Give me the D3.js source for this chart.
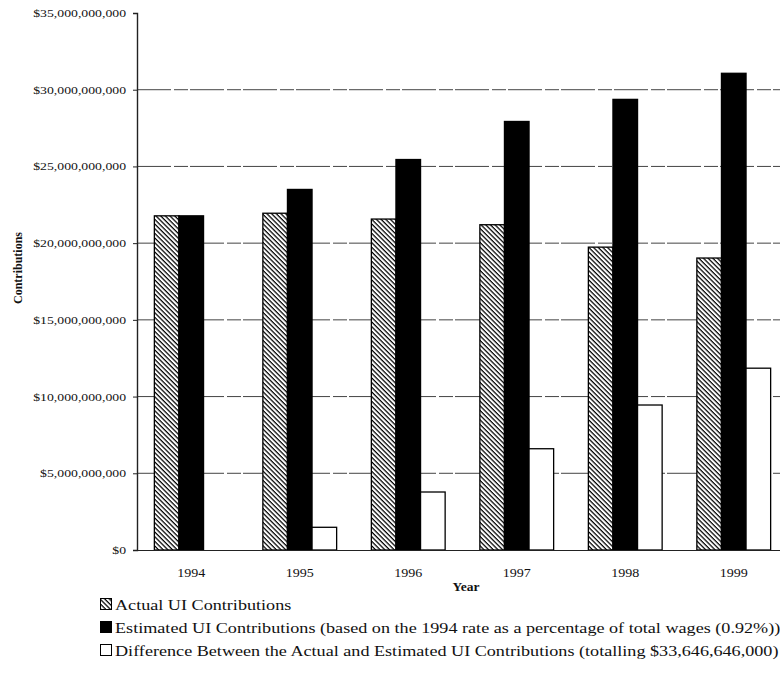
<!DOCTYPE html>
<html>
<head>
<meta charset="utf-8">
<script src="https://cdn.jsdelivr.net/npm/d3@7"></script>
<style>
  html, body { margin: 0; padding: 0; background: #fff; }
  svg { display: block; }
  text { font-family: "Liberation Serif", "Times New Roman", serif; fill: #111; }
</style>
</head>
<body>
<svg id="chart" width="780" height="677"></svg>
<script>
// Unemployment insurance contributions by year
const years = ["1994", "1995", "1996", "1997", "1998", "1999"];
const actual = [21.78e9, 21.95e9, 21.57e9, 21.2e9, 19.74e9, 19.03e9];
const estimated = [21.78e9, 23.5e9, 25.45e9, 27.93e9, 29.37e9, 31.07e9];
const difference = [0, 1.48e9, 3.78e9, 6.6e9, 9.45e9, 11.85e9];
const yTicks = [0, 5e9, 10e9, 15e9, 20e9, 25e9, 30e9, 35e9];
const seriesKeys = ["actual", "estimated", "difference"];
const legendLabels = [
  "Actual UI Contributions",
  "Estimated UI Contributions (based on the 1994 rate as a percentage of total wages (0.92%))",
  "Difference Between the Actual and Estimated UI Contributions (totalling $33,646,646,000)"
];

const svg = d3.select("#chart");
const plotLeft = 137, plotTop = 13, plotBottom = 550, plotRight = 788;

// hatched fill for the actual series (lines falling left to right)
const defs = svg.append("defs");
const pat = defs.append("pattern")
  .attr("id", "hatch")
  .attr("patternUnits", "userSpaceOnUse")
  .attr("width", 3.3).attr("height", 3.3)
  .attr("patternTransform", "rotate(45)");
pat.append("rect").attr("width", 3.3).attr("height", 3.3).attr("fill", "#fff");
pat.append("line").attr("x1", 0).attr("y1", 0).attr("x2", 3.3).attr("y2", 0)
  .attr("stroke", "#000").attr("stroke-width", 2.5);

const fills = { actual: "url(#hatch)", estimated: "#000", difference: "#fff" };

const x = d3.scaleBand().domain(years).range([plotLeft, plotRight]).padding(0);
const xs = d3.scaleBand().domain(seriesKeys)
  .range([x.bandwidth() * 0.16, x.bandwidth() * 0.84]).padding(0);
const y = d3.scaleLinear().domain([0, 35e9]).range([plotBottom, plotTop]);

// stretch helper: widens rendered glyphs horizontally
function stretch(sel, k) {
  sel.each(function () {
    const l = this.getComputedTextLength();
    d3.select(this).attr("textLength", l * k).attr("lengthAdjust", "spacingAndGlyphs");
  });
}

// gridlines
svg.append("g").selectAll("line")
  .data(yTicks.filter(v => v > 0 && v < 35e9))
  .join("line")
  .attr("x1", plotLeft).attr("x2", plotRight)
  .attr("y1", d => y(d)).attr("y2", d => y(d))
  .attr("stroke", "#444").attr("stroke-width", 1)
  .attr("stroke-dasharray", "34,3,14,2");

// bars
const rows = years.map((yr, i) => ({
  year: yr,
  values: [
    { key: "actual", v: actual[i] },
    { key: "estimated", v: estimated[i] },
    { key: "difference", v: difference[i] }
  ]
}));

svg.append("g").selectAll("g")
  .data(rows)
  .join("g")
  .attr("transform", d => `translate(${x(d.year)},0)`)
  .selectAll("rect")
  .data(d => d.values.filter(e => e.v > 0))
  .join("rect")
  .attr("x", d => xs(d.key))
  .attr("width", xs.bandwidth())
  .attr("y", d => y(d.v))
  .attr("height", d => y(0) - y(d.v))
  .attr("fill", d => fills[d.key])
  .attr("stroke", "#000")
  .attr("stroke-width", 1.3);

// y axis
const yAxis = svg.append("g")
  .attr("transform", `translate(${plotLeft},0)`)
  .call(d3.axisLeft(y).tickValues(yTicks).tickFormat(d3.format("$,.0f")).tickSize(4).tickPadding(7));
yAxis.select(".domain").attr("stroke", "#222").attr("stroke-width", 1.4);
yAxis.selectAll(".tick line").attr("stroke", "#222");
yAxis.selectAll("text").attr("font-size", 11).attr("font-family", "Liberation Serif").attr("fill", "#111");
stretch(yAxis.selectAll("text"), 1.25);

// x axis
const xAxis = svg.append("g")
  .attr("transform", `translate(0,${plotBottom})`)
  .call(d3.axisBottom(x).tickSize(0).tickPadding(18));
xAxis.select(".domain").attr("stroke", "#222").attr("stroke-width", 1.2);
xAxis.selectAll("text").attr("font-size", 13).attr("font-family", "Liberation Serif").attr("fill", "#111");
stretch(xAxis.selectAll("text"), 1.08);

// axis titles
svg.append("text")
  .attr("transform", "translate(22,268) rotate(-90)")
  .attr("text-anchor", "middle")
  .attr("font-size", 12).attr("font-weight", "bold")
  .text("Contributions");

const xt = svg.append("text")
  .attr("x", 466).attr("y", 591)
  .attr("text-anchor", "middle")
  .attr("font-size", 12.5).attr("font-weight", "bold")
  .text("Year");
stretch(xt, 1.08);

// legend
const legend = svg.append("g").attr("transform", "translate(100,598)");
const li = legend.selectAll("g")
  .data(seriesKeys)
  .join("g")
  .attr("transform", (d, i) => `translate(0,${i * 23})`);
li.append("rect")
  .attr("x", 0.5).attr("y", 0.5).attr("width", 11).attr("height", 11)
  .attr("fill", d => fills[d]).attr("stroke", "#000").attr("stroke-width", 1);
const lt = li.append("text")
  .attr("x", 15).attr("y", 11.5)
  .attr("font-size", 15.5)
  .text((d, i) => legendLabels[i]);
stretch(lt, 1.17);
</script>
</body>
</html>
